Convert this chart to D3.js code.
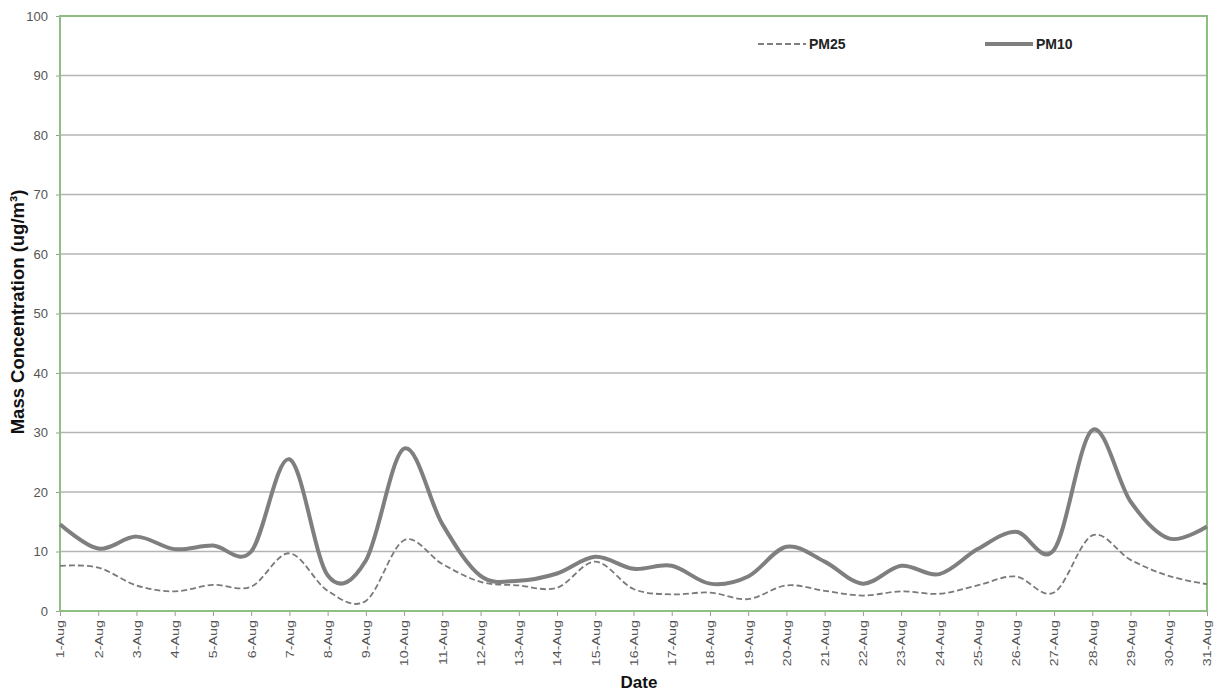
<!DOCTYPE html>
<html>
<head>
<meta charset="utf-8">
<script src="https://cdn.jsdelivr.net/npm/d3@7"></script>
<style>
  body { margin: 0; background: #fff; }
  text { font-family: "Liberation Sans", Arial, sans-serif; }
</style>
</head>
<body>
<div id="chart-area"></div>
<script>
// daily values
var dates = ['1-Aug', '2-Aug', '3-Aug', '4-Aug', '5-Aug', '6-Aug', '7-Aug', '8-Aug', '9-Aug', '10-Aug',
    '11-Aug', '12-Aug', '13-Aug', '14-Aug', '15-Aug', '16-Aug', '17-Aug', '18-Aug', '19-Aug', '20-Aug',
    '21-Aug', '22-Aug', '23-Aug', '24-Aug', '25-Aug', '26-Aug', '27-Aug', '28-Aug', '29-Aug', '30-Aug', '31-Aug'];
var pm10 = [14.6, 10.5, 12.5, 10.4, 11.0, 10.0, 25.5, 6.0, 8.5, 27.3,
    14.6, 5.9, 5.1, 6.3, 9.1, 7.1, 7.6, 4.6, 5.8, 10.8,
    8.3, 4.6, 7.6, 6.2, 10.4, 13.3, 10.3, 30.4, 18.4, 12.2, 14.2];
var pm25 = [7.6, 7.3, 4.3, 3.3, 4.4, 4.1, 9.7, 3.4, 1.7, 11.9,
    7.9, 4.9, 4.3, 3.9, 8.3, 3.7, 2.8, 3.1, 2.0, 4.3,
    3.4, 2.6, 3.3, 2.9, 4.3, 5.8, 3.1, 12.7, 8.6, 5.9, 4.5];
var yTicks = [0, 10, 20, 30, 40, 50, 60, 70, 80, 90, 100];

var margin = { top: 16, right: 12, bottom: 81, left: 60 };
var width = 1219 - margin.left - margin.right;
var height = 692 - margin.top - margin.bottom;

var svg = d3.select('#chart-area')
    .append('svg')
    .attr('width', 1219)
    .attr('height', 692);

var graph = svg.append('g')
    .attr('transform', 'translate(' + margin.left + ',' + margin.top + ')');

var x = d3.scalePoint()
    .domain(dates)
    .range([0, width]);

var y = d3.scaleLinear()
    .domain([0, 100])
    .range([height, 0]);

// gridlines
graph.append('g')
    .selectAll('line')
    .data(yTicks.slice(1, -1))
    .enter()
    .append('line')
    .attr('x1', 0)
    .attr('x2', width)
    .attr('y1', function (d) { return y(d); })
    .attr('y2', function (d) { return y(d); })
    .attr('stroke', '#b4b4b4')
    .attr('stroke-width', 1.5);

var yAxis = d3.axisLeft(y)
    .tickValues(yTicks)
    .tickSize(4)
    .tickSizeOuter(0);
var yg = graph.append('g')
    .attr('class', 'y-axis')
    .call(yAxis);
yg.select('.domain').remove();
yg.selectAll('line').attr('stroke', '#9a9a9a');
yg.selectAll('text')
    .attr('x', -12)
    .attr('font-size', '13px')
    .attr('fill', '#555');

var xAxis = d3.axisBottom(x)
    .tickSize(5)
    .tickSizeOuter(0);
var xg = graph.append('g')
    .attr('class', 'x-axis')
    .attr('transform', 'translate(0,' + height + ')')
    .call(xAxis);
xg.select('.domain').remove();
xg.selectAll('line').attr('stroke', '#9a9a9a');
// labels are drawn stretched along their baseline, as in the original
xg.selectAll('text')
    .attr('transform', 'rotate(-90) scale(1.3,1)')
    .attr('x', -7)
    .attr('y', 0)
    .attr('dy', '0.35em')
    .attr('text-anchor', 'end')
    .attr('font-size', '11px')
    .attr('fill', '#555');

// plot border
graph.append('rect')
    .attr('x', 0)
    .attr('y', 0)
    .attr('width', width)
    .attr('height', height)
    .attr('fill', 'none')
    .attr('stroke', '#8dbf82')
    .attr('stroke-width', 2);

var line = d3.line()
    .x(function (d, i) { return x(dates[i]); })
    .y(function (d) { return y(d); })
    .curve(d3.curveCatmullRom.alpha(0));

graph.append('path')
    .datum(pm25)
    .attr('d', line)
    .attr('fill', 'none')
    .attr('stroke', '#7a7a7a')
    .attr('stroke-width', 1.8)
    .attr('stroke-dasharray', '6,3');

graph.append('path')
    .datum(pm10)
    .attr('d', line)
    .attr('fill', 'none')
    .attr('stroke', '#7f7f7f')
    .attr('stroke-width', 4);

// legend
var legend = [
    { name: 'PM25', x: 758, dash: '6,3', w: 1.8 },
    { name: 'PM10', x: 985, dash: null, w: 4 }
];
legend.forEach(function (l) {
    svg.append('line')
        .attr('x1', l.x)
        .attr('x2', l.x + 48)
        .attr('y1', 44)
        .attr('y2', 44)
        .attr('stroke', '#7f7f7f')
        .attr('stroke-width', l.w)
        .attr('stroke-dasharray', l.dash);
    svg.append('text')
        .attr('x', l.x + 51)
        .attr('y', 44)
        .attr('dy', '0.35em')
        .attr('font-size', '14px')
        .attr('font-weight', 'bold')
        .attr('fill', '#222')
        .text(l.name);
});

// axis titles
svg.append('text')
    .attr('transform', 'translate(24,312) rotate(-90)')
    .attr('text-anchor', 'middle')
    .attr('font-size', '18.5px')
    .attr('font-weight', 'bold')
    .attr('fill', '#111')
    .text('Mass Concentration (ug/m³)');

svg.append('text')
    .attr('x', 639)
    .attr('y', 688)
    .attr('text-anchor', 'middle')
    .attr('font-size', '17px')
    .attr('font-weight', 'bold')
    .attr('fill', '#111')
    .text('Date');
</script>
</body>
</html>
